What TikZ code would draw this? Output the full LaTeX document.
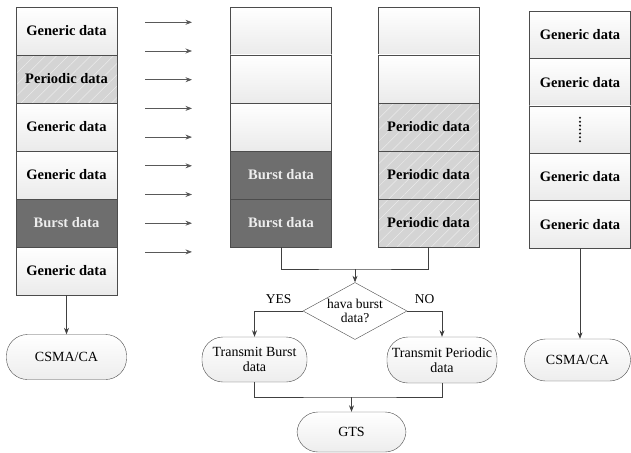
\documentclass[tikz,border=0pt]{standalone}
\usepackage{fontspec}
\setmainfont{Liberation Serif}
\usetikzlibrary{shapes.geometric,arrows.meta,positioning,patterns.meta}
\tikzset{cellbase/.style={draw=black!70, minimum width=101pt, minimum height=48pt, inner sep=0pt, font=\fontsize{14.5}{16}\selectfont\bfseries},
  generic/.style={cellbase, top color=white, bottom color=black!8},
  burst/.style={cellbase, fill=black!57, text=black!7},
  periodic/.style={cellbase, preaction={fill=black!17}, pattern={Lines[angle=45,distance=8pt,line width=.5pt]}, pattern color=black!8},
  term/.style={draw=black!70, rounded corners=21pt, top color=white, bottom color=black!7, inner sep=0pt, align=center, font=\fontsize{14}{15}\selectfont},
  decision/.style={diamond, draw=black!70, fill=white, inner sep=0pt, minimum width=104pt, minimum height=57pt},
  flow/.style={draw=black!75, line width=.7pt, -{Stealth[length=6.5pt,width=5pt]}},
  link/.style={draw=black!75, line width=.7pt}}

\begin{document}
\begin{tikzpicture}[x=1pt,y=-1pt]
\useasboundingbox (0,0) rectangle (631,452);

\foreach \n/\t/\s in {1/Generic data/generic,2/Periodic data/periodic,3/Generic data/generic,4/Generic data/generic,5/Burst data/burst,6/Generic data/generic}
  \node[\s] (L\n) at (66.5,{48*\n-17}) {\t};

\foreach \n/\t/\s in {1//generic,2//generic,3//generic,4/Burst data/burst,5/Burst data/burst}
  \node[\s] (M\n) at (281,{48*\n-17}) {\t};

\foreach \n/\t/\s in {1//generic,2//generic,3/Periodic data/periodic,4/Periodic data/periodic,5/Periodic data/periodic}
  \node[\s] (P\n) at (428.5,{48*\n-17}) {\t};

\foreach \n/\t in {1/Generic data,2/Generic data,3/,4/Generic data,5/Generic data}
  \node[generic, minimum height=47.4pt] (R\n) at (580,{47.4*\n-12.7}) {\t};
\draw[black!90, line width=2.3pt, dash pattern=on 0pt off 3.9pt, line cap=round] ([yshift=11.7pt]R3.center) -- ([yshift=-11.7pt]R3.center);

\foreach \k in {0,...,8}
         {
           \coordinate (s\k) at (145,{22.3+28.7*\k});
           \coordinate (e\k) at (192,{22.3+28.7*\k});
           \draw[flow, draw=black!65] (s\k) -- (e\k);
         }

\node[term, minimum width=120pt, minimum height=45pt] (csmaL) at (66.5,357) {CSMA/CA};
\node[term, minimum width=106pt, minimum height=42pt] (csmaR) at (577.5,360) {CSMA/CA};
\node[decision, label={[font=\fontsize{13.5}{14.5}\selectfont, align=center]center:hava burst\\data?}] (dec) at (355,311) {};
\node[term, minimum width=105pt, minimum height=45pt] (tb) at (254.5,359.5) {Transmit Burst\\data};
\node[term, minimum width=110pt, minimum height=46pt] (tp) at (442,360) {Transmit Periodic\\data};
\node[term, minimum width=109pt, minimum height=40pt] (gts) at (351.5,432) {GTS};

\coordinate (j1) at (355,269);
\coordinate (j2) at (351.5,397);

\draw[flow] (L6.south) -- (csmaL.north);
\draw[flow] (R5.south) -- (R5.south |- csmaR.north);
\draw[link] (M5.south) |- (j1) -| (P5.south);
\draw[flow] (j1) -- (dec.north);
\draw[flow] (dec.west) -| node[pos=.25, above=4pt, font=\fontsize{13.5}{14}\selectfont] (yes) {YES} (tb.north);
\draw[flow] (dec.east) -| node[pos=.25, above=4pt, font=\fontsize{13.5}{14}\selectfont] (no) {NO} (tp.north);
\draw[link] (tb.south) |- (j2) -| (tp.south);
\draw[flow] (j2) -- (gts.north);

\end{tikzpicture}
\end{document}
